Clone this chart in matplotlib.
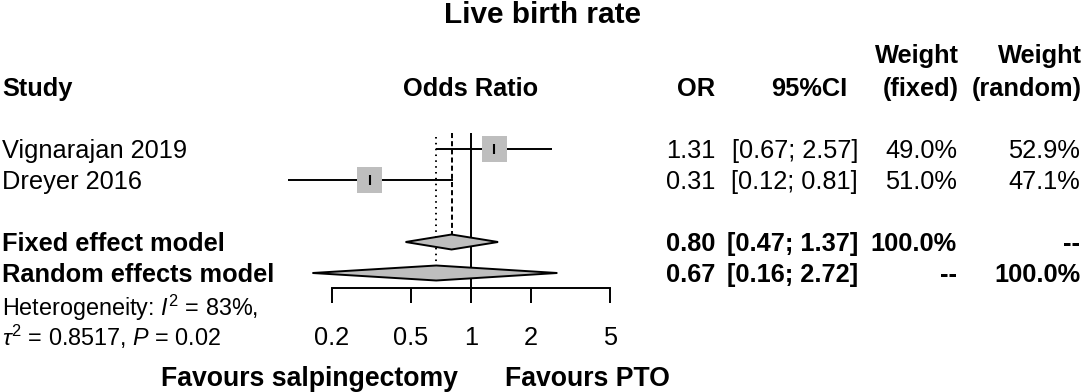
import numpy as np
import matplotlib.pyplot as plt
from matplotlib.patches import Polygon
from matplotlib.ticker import NullLocator

plt.rcParams['font.family'] = ['Liberation Sans', 'DejaVu Sans']
plt.rcParams['mathtext.fontset'] = 'custom'
plt.rcParams['mathtext.rm'] = 'Liberation Sans'
plt.rcParams['mathtext.it'] = 'Liberation Sans:italic'
plt.rcParams['mathtext.bf'] = 'Liberation Sans:bold'

# datos del forest plot
studies = ["Vignarajan 2019", "Dreyer 2016"]
study_or = [1.31, 0.31]
study_lo = [0.67, 0.12]
study_hi = [2.57, 0.81]
w_fixed = [49.0, 51.0]
w_random = [52.9, 47.1]

models = ["Fixed effect model", "Random effects model"]
model_or = [0.80, 0.67]
model_lo = [0.47, 0.16]
model_hi = [1.37, 2.72]
model_wf = ["100.0%", "--"]
model_wr = ["--", "100.0%"]

ticks = [0.2, 0.5, 1, 2, 5]
tick_labels = ["0.2", "0.5", "1", "2", "5"]

study_rows = [0, 1]
model_rows = [3, 4]

# layout (pixeles)
W, H = 1084, 392
ROW = 31.0
Y0 = 149.0
FS = 18.3
LW = 1.4
GREY = "#BEBEBE"


def r(ypx):
    return (ypx - Y0) / ROW


BASE = 9.0 / ROW  # desplazamiento a la linea base

fig = plt.figure(figsize=(W / 100, H / 100), dpi=100)

# ejes de texto
tx = fig.add_axes([0, 0, 1, 1])
tx.set_xlim(0, W)
tx.set_ylim(r(H), r(0))
tx.axis("off")

# ejes del forest
ax = fig.add_axes([331.7 / W, (H - 288) / H, 278.3 / W, (288 - 133) / H])
ax.set_xscale("log")
ax.set_xlim(0.2, 5)
ax.set_ylim(r(288), r(133))
ax.patch.set_visible(False)
for s in ["top", "left", "right"]:
    ax.spines[s].set_visible(False)
ax.spines["bottom"].set_linewidth(LW)
ax.set_xticks(ticks)
ax.set_xticklabels(tick_labels)
ax.xaxis.set_minor_locator(NullLocator())
ax.tick_params(axis="x", direction="out", length=10.8, width=LW, pad=16.5, labelsize=FS)
ax.set_yticks([])

# lineas verticales
ax.axvline(1, color="black", lw=LW)
dh = 7.5 / ROW
ax.plot([model_or[0]] * 2, [r(133), model_rows[0] - dh], color="black", lw=LW,
        linestyle=(0, (2.6, 1.6)))
ax.plot([model_or[1]] * 2, [r(137), model_rows[1] - dh], color="black", lw=LW,
        linestyle=(0, (0.8, 2.2)))

# estudios
ax.hlines(study_rows, study_lo, study_hi, color="black", lw=LW, clip_on=False, zorder=2)
sides = [36 * np.sqrt(w / 100) * 0.72 for w in w_fixed]
ax.scatter(study_or, study_rows, marker="s", s=[v ** 2 for v in sides], color=GREY,
           linewidths=0, clip_on=False, zorder=3)
ax.scatter(study_or, study_rows, marker="|", s=45, color="black", linewidths=1.5,
           clip_on=False, zorder=4)

# modelos combinados
for est, lo, hi, y in zip(model_or, model_lo, model_hi, model_rows):
    d = Polygon([(lo, y), (est, y - dh), (hi, y), (est, y + dh)], closed=True,
                facecolor=GREY, edgecolor="black", lw=LW, clip_on=False, zorder=3)
    ax.add_patch(d)

# textos
tx.text(542, r(22.6), "Live birth rate", ha="center", va="baseline", fontsize=21.4,
        weight="bold")

hy = r(96)
tx.text(2, hy, "Study", ha="left", va="baseline", fontsize=FS, weight="bold")
tx.text(471, hy, "Odds Ratio", ha="center", va="baseline", fontsize=FS, weight="bold")
tx.text(715, hy, "OR", ha="right", va="baseline", fontsize=FS, weight="bold")
tx.text(847, hy, "95%CI", ha="right", va="baseline", fontsize=FS, weight="bold")
tx.text(959, r(63), "Weight", ha="right", va="baseline", fontsize=FS, weight="bold")
tx.text(959, hy, "(fixed)", ha="right", va="baseline", fontsize=FS, weight="bold")
tx.text(1082, r(63), "Weight", ha="right", va="baseline", fontsize=FS, weight="bold")
tx.text(1082, hy, "(random)", ha="right", va="baseline", fontsize=FS, weight="bold")

for i, y in enumerate(study_rows):
    yb = y + BASE
    tx.text(2, yb, studies[i], ha="left", va="baseline", fontsize=FS)
    tx.text(715, yb, f"{study_or[i]:.2f}", ha="right", va="baseline", fontsize=FS)
    tx.text(858, yb, f"[{study_lo[i]:.2f}; {study_hi[i]:.2f}]", ha="right",
            va="baseline", fontsize=FS)
    tx.text(957, yb, f"{w_fixed[i]:.1f}%", ha="right", va="baseline", fontsize=FS)
    tx.text(1080, yb, f"{w_random[i]:.1f}%", ha="right", va="baseline", fontsize=FS)

for i, y in enumerate(model_rows):
    yb = y + BASE
    tx.text(2, yb, models[i], ha="left", va="baseline", fontsize=FS, weight="bold")
    tx.text(715, yb, f"{model_or[i]:.2f}", ha="right", va="baseline", fontsize=FS,
            weight="bold")
    tx.text(858, yb, f"[{model_lo[i]:.2f}; {model_hi[i]:.2f}]", ha="right",
            va="baseline", fontsize=FS, weight="bold")
    tx.text(957, yb, model_wf[i], ha="right", va="baseline", fontsize=FS, weight="bold")
    tx.text(1080, yb, model_wr[i], ha="right", va="baseline", fontsize=FS, weight="bold")

HFS = 16.8
tx.text(2, r(316), r"Heterogeneity: $I^2$ = 83%,", ha="left", va="baseline", fontsize=HFS)
tx.text(2, r(346), r"$\tau^2$ = 0.8517, $P$ = 0.02", ha="left", va="baseline", fontsize=HFS)

tx.text(458, r(386.5), "Favours salpingectomy", ha="right", va="baseline", fontsize=19.2,
        weight="bold")
tx.text(505, r(386.5), "Favours PTO", ha="left", va="baseline", fontsize=19.2,
        weight="bold")

fig.savefig("out.png", dpi=100)
